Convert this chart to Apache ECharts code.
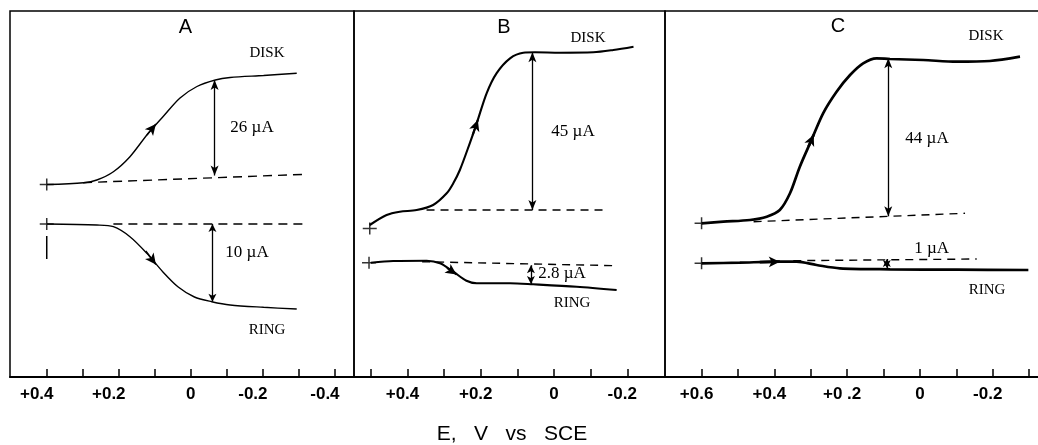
<!DOCTYPE html>
<html><head><meta charset="utf-8">
<script src="https://cdn.jsdelivr.net/npm/echarts@6/dist/echarts.min.js"></script>
<style>html,body{margin:0;padding:0;background:#fff}#c{width:1038px;height:445px}</style>
</head><body><div id="c"></div>
<script>
// x: potential E (V vs SCE); y: current in relative vertical units
// ---- Panel A ----
const diskA = [[0.4,192.5],[0.298,194.3],[0.261,197],[0.215,205.3],[0.169,220.3],[0.122,242],[0.078,260],[0.030,279],[-0.017,290.5],[-0.068,297],[-0.109,299.5],[-0.202,301.5],[-0.294,303.7]];
const diskBaseA = [[0.299,194.3],[-0.319,202.7]];
const ringA = [[0.4,153],[0.261,152],[0.215,150.3],[0.169,140.3],[0.122,123.7],[0.078,105.3],[0.035,90],[-0.010,80],[-0.058,75.3],[-0.109,72],[-0.202,69.7],[-0.294,68]];
const ringBaseA = [[0.215,153],[-0.313,153]];
const diskSpanA = [[-0.066,297],[-0.066,201.5]];
const ringSpanA = [[-0.060,153],[-0.060,75.3]];
const diskDirA = [[0.122,242],[0.097,253]];
const ringDirA = [[0.125,126],[0.097,112.5]];
const startA = [[0.4,192.5],[0.4,153]];
const zeroMarkA = [[0.4,141],[0.4,118]];
const ticksA = [0.4,0.3,0.2,0.1,0,-0.1,-0.2,-0.3,-0.4];
const labelValsA = [0.4,0.2,0,-0.2,-0.4];
const labelTextA = ['+0.4','+0.2','0','-0.2','-0.4'];

// ---- Panel B ----
const diskB = [[0.503,152],[0.457,162],[0.421,165.3],[0.375,167],[0.330,172],[0.293,183.7],[0.275,193.7],[0.257,207],[0.230,233.7],[0.211,253.7],[0.184,283.7],[0.157,303.7],[0.120,318.7],[0.084,324.3],[0.052,324.7],[-0.016,324.3],[-0.107,324.7],[-0.162,327],[-0.217,330.3]];
const diskBaseB = [[0.348,167],[-0.148,167]];
const ringB = [[0.5,114.3],[0.439,116],[0.348,116.3],[0.311,113.7],[0.275,105.3],[0.239,96.3],[0.211,93.7],[0.120,93.7],[0.057,92.7],[-0.062,90.3],[-0.171,87]];
const ringBaseB = [[0.36,115.3],[-0.171,111.3]];
const diskSpanB = [[0.059,324.7],[0.059,167]];
const ringSpanB = [[0.063,111.8],[0.063,93]];
const diskDirB = [[0.222,242],[0.208,257]];
const ringDirB = [[0.292,109],[0.266,102.5]];
const startB = [[0.503,148.5],[0.505,114.3]];
const ticksB = [0.5,0.4,0.3,0.2,0.1,0,-0.1,-0.2];
const labelValsB = [0.4,0.2,0,-0.2];
const labelTextB = ['+0.4','+0.2','0','-0.2'];

// ---- Panel C ----
const diskC = [[0.6,153.7],[0.540,155.3],[0.467,157],[0.421,160.3],[0.385,167],[0.357,183.7],[0.330,210.3],[0.298,237],[0.266,263.7],[0.229,285.3],[0.192,302],[0.156,313.7],[0.119,318.7],[0.082,318],[-0.009,317],[-0.101,315.3],[-0.192,316],[-0.275,320.3]];
const diskBaseC = [[0.457,155.3],[-0.124,163.7]];
const ringC = [[0.6,113.7],[0.495,114.3],[0.394,115.3],[0.339,115.3],[0.284,112],[0.220,108.7],[0.082,107.7],[-0.101,107.3],[-0.298,107]];
const ringBaseC = [[0.348,116.3],[-0.156,118]];
const diskSpanC = [[0.087,318.7],[0.087,160.7]];
const ringSpanC = [[0.091,118],[0.091,109]];
const diskDirC = [[0.306,230.5],[0.292,242.2]];
const ringDirC = [[0.44,114.9],[0.385,115.3]];
const startC = [[0.6,153.7],[0.6,113.7]];
const ticksC = [0.6,0.5,0.4,0.3,0.2,0.1,0,-0.1,-0.2,-0.3];
const labelValsC = [0.6,0.4,0.2,0,-0.2];
const labelTextC = ['+0.6','+0.4','+0 .2','0','-0.2'];

const panels = [
  {grid:{left:10,width:344}, min:-0.453, max:0.502, ticks:ticksA, lv:labelValsA, lt:labelTextA, pad:20, lw:1.4,
   disk:diskA, diskBase:diskBaseA, ring:ringA, ringBase:ringBaseA, dSpan:diskSpanA, rSpan:ringSpanA, dDir:diskDirA, rDir:ringDirA, start:startA, extra:zeroMarkA, dash:[9,6]},
  {grid:{left:354,width:311}, min:-0.303, max:0.546, ticks:ticksB, lv:labelValsB, lt:labelTextB, pad:10, lw:2.1,
   disk:diskB, diskBase:diskBaseB, ring:ringB, ringBase:ringBaseB, dSpan:diskSpanB, rSpan:ringSpanB, dDir:diskDirB, rDir:ringDirB, start:startB, extra:null, dash:[8,6]},
  {grid:{left:665,width:375}, min:-0.330, max:0.7005, ticks:ticksC, lv:labelValsC, lt:labelTextC, pad:10, lw:2.7,
   disk:diskC, diskBase:diskBaseC, ring:ringC, ringBase:ringBaseC, dSpan:diskSpanC, rSpan:ringSpanC, dDir:diskDirC, rDir:ringDirC, start:startC, extra:null, dash:[8,6]}
];

const grids=[], xAxes=[], yAxes=[], series=[];
const tickFont = {fontFamily:'"Liberation Sans", Arial, sans-serif', fontSize:17, fontWeight:'bold', color:'#000'};
const plusPath = 'path://M0,5.25H14V6.75H0Z M6.25,0H7.75V12H6.25Z';

panels.forEach((p,i)=>{
  grids.push({left:p.grid.left, width:p.grid.width, top:11, height:366, show:true, borderColor:'#000', borderWidth:1.5,
    backgroundColor:'transparent', containLabel:false, outerBoundsMode:'none'});
  xAxes.push({gridIndex:i, type:'value', inverse:true, min:p.min, max:p.max,
    axisLine:{show:true, onZero:false, lineStyle:{color:'#000', width:2}},
    axisTick:{show:true, inside:true, length:8, customValues:p.ticks, lineStyle:{color:'#000', width:1.5}},
    axisLabel:Object.assign({show:true, margin:9, customValues:p.lv, hideOverlap:false,
      formatter:(v)=>{const k=p.lv.findIndex(x=>Math.abs(x-v)<1e-6); const t=k>=0?p.lt[k]:''; return t==='0'?t:'{p|'+t+'}';},
      rich:{p:Object.assign({padding:[0,p.pad,0,0]}, tickFont)}}, tickFont),
    splitLine:{show:false}});
  yAxes.push({gridIndex:i, type:'value', min:0, max:366, show:false});
  const base = {xAxisIndex:i, yAxisIndex:i, silent:true, animation:false};
  const arrowML = (span, sym, w, size)=>({silent:true, animation:false, symbol:sym, symbolSize:size,
    lineStyle:{color:'#000', type:'solid', width:w}, label:{show:false}, emphasis:{disabled:true},
    data:[[{coord:span[0]},{coord:span[1]}]]});
  const curve = {type:'line', showSymbol:false, smooth:0.3};
  series.push(Object.assign({}, curve, {data:p.disk, lineStyle:{color:'#000', width:p.lw},
    markLine:arrowML(p.dDir,['none','arrow'],p.lw,[8,11])}, base));
  series.push(Object.assign({}, curve, {data:p.ring, lineStyle:{color:'#000', width:p.lw},
    markLine:arrowML(p.rDir,['none','arrow'],p.lw,[8,11])}, base));
  series.push(Object.assign({type:'line', data:p.diskBase, showSymbol:false, lineStyle:{color:'#000', width:1.4, type:p.dash},
    markLine:arrowML(p.dSpan,['arrow','arrow'],1.3,[6,10])}, base));
  series.push(Object.assign({type:'line', data:p.ringBase, showSymbol:false, lineStyle:{color:'#000', width:1.4, type:p.dash},
    markLine:arrowML(p.rSpan,['arrow','arrow'],1.3,[6,8])}, base));
  series.push(Object.assign({type:'scatter', data:p.start, symbol:plusPath, symbolSize:[14,12], itemStyle:{color:'#000'}}, base));
  if (p.extra) series.push(Object.assign({type:'line', data:p.extra, showSymbol:false, lineStyle:{color:'#000', width:1.5}}, base));
});

const serif = '"Liberation Serif", "Times New Roman", serif';
const sans = '"Liberation Sans", Arial, sans-serif';
const txt = (x,y,text,size,family)=>({type:'text', x, y, silent:true,
  style:{text, fill:'#000', font:size+'px '+family, textAlign:'center', textVerticalAlign:'middle'}});

const chart = echarts.init(document.getElementById('c'), null, {renderer:'canvas'});
chart.setOption({
  animation:false,
  backgroundColor:'#fff',
  grid:grids, xAxis:xAxes, yAxis:yAxes, series,
  graphic:[
    txt(185.5,27.5,'A',20,sans), txt(504,27.5,'B',20,sans), txt(838,26,'C',20,sans),
    txt(267,53,'DISK',15,serif), txt(267,330,'RING',15,serif),
    txt(252,128,'26 µA',17,serif), txt(247,253,'10 µA',17,serif),
    txt(588,38.5,'DISK',15,serif), txt(573,132,'45 µA',17,serif), txt(562,273.5,'2.8 µA',17,serif), txt(572,302.7,'RING',15,serif),
    txt(986,36,'DISK',15,serif), txt(927,138.3,'44 µA',17,serif), txt(931.7,249,'1 µA',17,serif), txt(987,290,'RING',15,serif),
    txt(512,434,'E,   V   vs   SCE',21,sans)
  ]
});
</script></body></html>
